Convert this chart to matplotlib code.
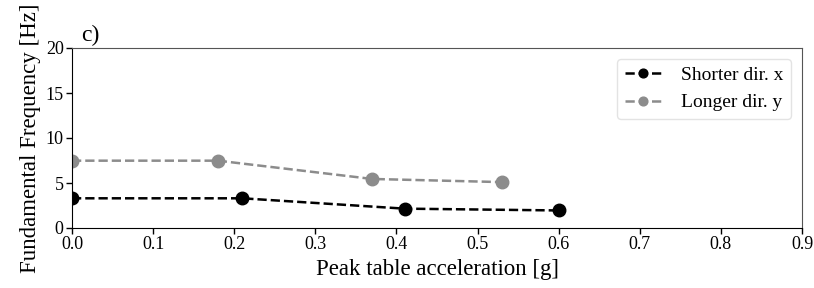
import matplotlib
matplotlib.use("Agg")
import matplotlib.pyplot as plt

plt.rcParams['font.family'] = ['Liberation Serif', 'DejaVu Serif']

x_short = [0.0, 0.21, 0.41, 0.60]
f_short = [3.3, 3.3, 2.15, 1.95]
x_long = [0.0, 0.18, 0.37, 0.53]
f_long = [7.48, 7.48, 5.45, 5.1]
xticks = [0.0, 0.1, 0.2, 0.3, 0.4, 0.5, 0.6, 0.7, 0.8, 0.9]
yticks = [0, 5, 10, 15, 20]

fig = plt.figure(figsize=(8.14, 2.88), dpi=100)
ax = fig.add_axes([72/814, 1-228/288, (802-72)/814, (228-48)/288])

ax.plot(x_short, f_short, '--o', color='black', lw=1.8, ms=9, label='Shorter dir. x')
ax.plot(x_long, f_long, '--o', color='#8c8c8c', lw=1.8, ms=9, label='Longer dir. y')

ax.set_xlim(0, 0.9)
ax.set_ylim(0, 20)
ax.set_xticks(xticks)
ax.set_xticklabels([f"{t:.1f}" for t in xticks])
ax.set_yticks(yticks)
ax.tick_params(labelsize=13, direction='out', length=4, width=1, pad=2)
for s in ['top', 'right']:
    ax.spines[s].set_color('#555555')
for s in ['left', 'bottom']:
    ax.spines[s].set_color('black')
ax.set_xlabel('Peak table acceleration [g]', fontsize=16.5, labelpad=4)
ax.set_ylabel('Fundamental Frequency [Hz]', fontsize=16.5, labelpad=3)
ax.text(0.012, 1.01, 'c)', transform=ax.transAxes, fontsize=17, va='bottom', ha='left')

leg = ax.legend(loc='upper right', fontsize=14, handlelength=1.9, handletextpad=1.0,
                markerscale=0.7, frameon=True, fancybox=True, borderaxespad=0.55)
leg.get_frame().set_edgecolor('#dddddd')

fig.savefig('out.png', dpi=100)
